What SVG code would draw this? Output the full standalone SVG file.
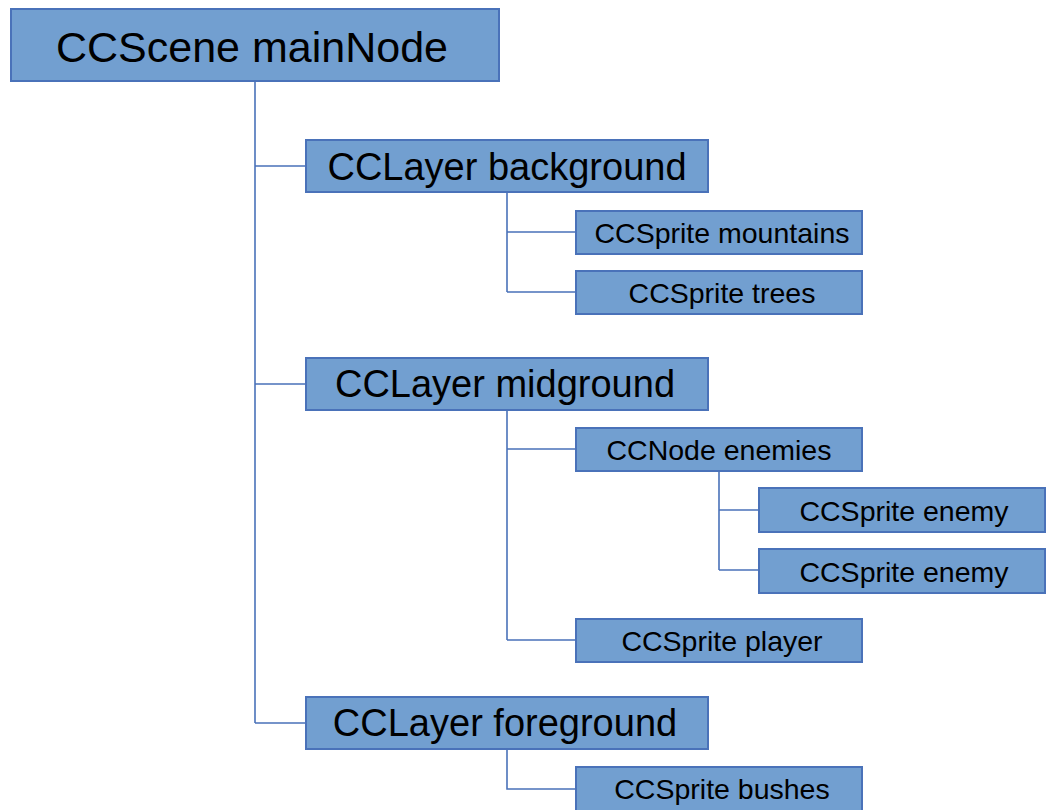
<svg xmlns="http://www.w3.org/2000/svg" width="1046" height="810" viewBox="0 0 1046 810">
<style>
.box{fill:#729fd0;stroke:#4a72b9;stroke-width:2}
.ln{fill:none;stroke:#4a72b9;stroke-width:1.6}
text{font-family:"Liberation Sans",Arial,Helvetica,sans-serif;fill:#000;text-anchor:middle}
.t1{font-size:43px}
.t2{font-size:38px}
.t3{font-size:28.5px}
</style>
<rect width="1046" height="810" fill="#fff"/>
<g id="connectors">
<path class="ln" d="M255 81V723M255 166H306M255 384H306M255 723H306"/>
<path class="ln" d="M507 192V292M507 232H576M507 292H576"/>
<path class="ln" d="M507 410V640M507 449H576M507 640H576"/>
<path class="ln" d="M719 471V570M719 510H759M719 570H759"/>
<path class="ln" d="M507 749V789H576"/>
</g>
<g id="mainNode"><rect class="box" x="11" y="9" width="488" height="72"/><text class="t1" x="252" y="62">CCScene mainNode</text></g>
<g id="background"><rect class="box" x="306" y="140" width="402" height="52"/><text class="t2" x="507" y="180">CCLayer background</text></g>
<g id="mountains"><rect class="box" x="576" y="211" width="286" height="43"/><text class="t3" x="722" y="243">CCSprite mountains</text></g>
<g id="trees"><rect class="box" x="576" y="271" width="286" height="43"/><text class="t3" x="722" y="303">CCSprite trees</text></g>
<g id="midground"><rect class="box" x="306" y="358" width="402" height="52"/><text class="t2" x="505" y="397">CCLayer midground</text></g>
<g id="enemies"><rect class="box" x="576" y="428" width="286" height="43"/><text class="t3" x="719" y="460">CCNode enemies</text></g>
<g id="enemy1"><rect class="box" x="759" y="488" width="286" height="44"/><text class="t3" x="904" y="521">CCSprite enemy</text></g>
<g id="enemy2"><rect class="box" x="759" y="549" width="286" height="44"/><text class="t3" x="904" y="582">CCSprite enemy</text></g>
<g id="player"><rect class="box" x="576" y="619" width="286" height="43"/><text class="t3" x="722" y="651">CCSprite player</text></g>
<g id="foreground"><rect class="box" x="306" y="697" width="402" height="52"/><text class="t2" x="505" y="736">CCLayer foreground</text></g>
<g id="bushes"><rect class="box" x="576" y="767" width="286" height="44"/><text class="t3" x="722" y="799">CCSprite bushes</text></g>
</svg>
